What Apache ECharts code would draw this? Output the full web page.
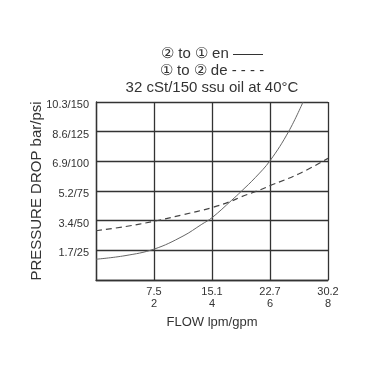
<!DOCTYPE html>
<html>
<head>
<meta charset="utf-8">
<script src="https://cdn.jsdelivr.net/npm/echarts@6/dist/echarts.min.js"></script>
<style>html,body{margin:0;padding:0;background:#fff}#c{width:373px;height:373px}</style>
</head>
<body>
<div id="c"></div>
<script>
const titleLines = ['② to ① en ——', '① to ② de - - - -', '32 cSt/150 ssu oil at 40°C'];
const xTicks = [0, 2, 4, 6, 8];
const xLabels = ['', '7.5\n2', '15.1\n4', '22.7\n6', '30.2\n8'];
const yTicks = [0, 25, 50, 75, 100, 125, 150];
const yLabels = ['', '1.7/25', '3.4/50', '5.2/75', '6.9/100', '8.6/125', '10.3/150'];
const enFlow = [0, 1, 2, 3, 3.65, 4, 4.67, 5, 5.5, 6, 6.64, 7.14];
const enDrop = [17.5, 20.5, 26, 37, 47, 52.5, 67, 74.5, 86.5, 100.5, 125, 150];
const deFlow = [0, 1, 2, 3, 4, 4.67, 5, 5.66, 6, 7, 8];
const deDrop = [41.5, 45, 49.5, 55, 61, 66.5, 70, 76, 79.5, 89.5, 102.5];

const chart = echarts.init(document.getElementById('c'), null, {renderer: 'canvas'});
const txt = '#333';
const gridCol = '#333';
const ff = 'Liberation Sans, Arial, sans-serif';
chart.setOption({
  animation: false,
  title: {
    text: titleLines.join('\n'),
    left: 212, top: 45, textAlign: 'center', padding: 0,
    textStyle: {fontFamily: ff, fontSize: 15, fontWeight: 'normal', color: txt, lineHeight: 17}
  },
  grid: {left: 96, right: 45, top: 102, bottom: 93},
  xAxis: {
    type: 'value', min: 0, max: 8, interval: 2,
    name: 'FLOW lpm/gpm', nameLocation: 'middle', nameGap: 36,
    nameTextStyle: {fontFamily: ff, fontSize: 13, color: txt},
    axisLine: {show: true, lineStyle: {color: gridCol, width: 1.3}},
    axisTick: {show: false},
    splitLine: {show: true, lineStyle: {color: gridCol, width: 1.3}},
    axisLabel: {
      margin: 6, lineHeight: 12, fontSize: 11, color: txt, fontFamily: ff,
      showMinLabel: true, showMaxLabel: true,
      formatter: v => xLabels[xTicks.indexOf(v)] ?? ''
    }
  },
  yAxis: {
    type: 'value', min: 0, max: 150, interval: 25,
    name: 'PRESSURE DROP bar/psi', nameLocation: 'middle', nameGap: 52,
    nameMoveOverlap: false,
    nameTextStyle: {fontFamily: ff, fontSize: 15, color: txt},
    axisLine: {show: true, lineStyle: {color: gridCol, width: 1.3}},
    axisTick: {show: false},
    splitLine: {show: true, lineStyle: {color: gridCol, width: 1.3}},
    axisLabel: {
      margin: 7, fontSize: 11, color: txt, fontFamily: ff, lineHeight: 6,
      showMinLabel: true, showMaxLabel: true,
      formatter: v => '\n' + (yLabels[yTicks.indexOf(v)] ?? '')
    }
  },
  series: [
    {
      type: 'line', name: 'en', smooth: 0.4, symbol: 'none', clip: true,
      data: enFlow.map((x, i) => [x, enDrop[i]]),
      lineStyle: {color: '#666', width: 1}
    },
    {
      type: 'line', name: 'de', smooth: 0.4, symbol: 'none', clip: true,
      data: deFlow.map((x, i) => [x, deDrop[i]]),
      lineStyle: {color: '#444', width: 1.2, type: [6, 4]}
    }
  ]
});
</script>
</body>
</html>
